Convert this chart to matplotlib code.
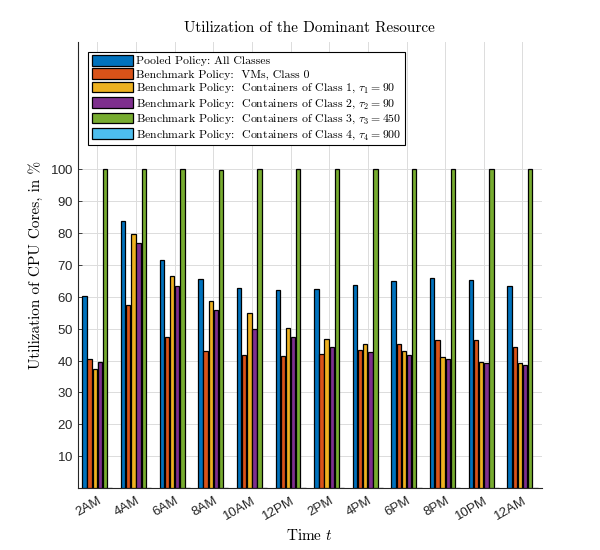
import numpy as np
import matplotlib
matplotlib.use("Agg")
import matplotlib.pyplot as plt

plt.rcParams['mathtext.fontset'] = 'cm'
plt.rcParams['axes.formatter.use_mathtext'] = True

times = ["2AM", "4AM", "6AM", "8AM", "10AM", "12PM", "2PM", "4PM", "6PM", "8PM", "10PM", "12AM"]
pooled = [60.3, 83.8, 71.7, 65.7, 62.9, 62.2, 62.5, 63.8, 65.1, 65.8, 65.4, 63.4]
vms_c0 = [40.6, 57.3, 47.5, 43.1, 41.6, 41.3, 42.2, 43.4, 45.3, 46.3, 46.3, 44.4]
cont_c1 = [37.5, 79.7, 66.6, 58.7, 55.0, 50.3, 46.9, 45.1, 43.1, 41.2, 39.7, 39.1]
cont_c2 = [39.5, 76.9, 63.4, 55.9, 50.0, 47.5, 44.4, 42.8, 41.6, 40.6, 39.1, 38.5]
cont_c3 = [100, 100, 100, 99.8, 100, 100, 100, 100, 100, 100, 100, 100]
cont_c4 = [0, 0, 0, 0, 0, 0, 0, 0, 0, 0, 0, 0]

series = [pooled, vms_c0, cont_c1, cont_c2, cont_c3, cont_c4]
labels = [
    "Pooled Policy: All Classes",
    "Benchmark Policy:  VMs, Class 0",
    r"Benchmark Policy:  Containers of Class 1, $\tau_1 = 90$",
    r"Benchmark Policy:  Containers of Class 2, $\tau_2 = 90$",
    r"Benchmark Policy:  Containers of Class 3, $\tau_3 = 450$",
    r"Benchmark Policy:  Containers of Class 4, $\tau_4 = 900$",
]
colors = ["#0072BD", "#D95319", "#EDB120", "#7E2F8E", "#77AC30", "#4DBEEE"]

fig = plt.figure(figsize=(6, 5.5), dpi=100)
ax = fig.add_axes([0.13, 0.1127, 0.773, 0.811])

x = np.arange(1, len(times) + 1)
n = len(series)
group_w = 0.8
step = group_w / n
for i, (vals, lab, col) in enumerate(zip(series, labels, colors)):
    off = -group_w / 2 + step * (i + 0.5)
    ax.bar(x + off, vals, width=step * 0.85, color=col, edgecolor='black',
           linewidth=0.9, label=lab, zorder=3)

ax.set_xlim(0.5, 12.5)
ax.set_ylim(0, 140)
ax.set_yticks(np.arange(10, 101, 10))
ax.set_xticks(x)
ax.set_xticklabels(times, rotation=30, ha='right', rotation_mode='anchor',
                   family='Liberation Sans', fontsize=9.5, color='#262626')
for t in ax.get_yticklabels():
    t.set_family('Liberation Sans')
    t.set_fontsize(9.5)
    t.set_color('#262626')
ax.tick_params(direction='in', length=3, width=0.6, colors='#262626')
ax.tick_params(axis='x', pad=5)
ax.grid(True, color='#dcdcdc', linewidth=0.7, zorder=0)
ax.set_axisbelow(True)
for s in ['top', 'right']:
    ax.spines[s].set_visible(False)
for s in ['left', 'bottom']:
    ax.spines[s].set_linewidth(0.8)
    ax.spines[s].set_color('#262626')

ax.set_title("Utilization of the Dominant Resource", fontsize=11, pad=7, family='cmr10')
ax.set_xlabel(r"Time $t$", fontsize=11, labelpad=4, family='cmr10')
ax.set_ylabel("Utilization of CPU Cores, in %", fontsize=11, labelpad=5, family='cmr10')

leg = ax.legend(loc='upper left', bbox_to_anchor=(0.022, 0.978),
                prop={'family': 'cmr10', 'size': 8.5},
                handlelength=3.5, handleheight=1.0, handletextpad=0.3,
                labelspacing=0.17, borderpad=0.28, fancybox=False, framealpha=1,
                edgecolor='black', borderaxespad=0)
leg.get_frame().set_linewidth(0.8)

fig.savefig("out.png", dpi=100)
